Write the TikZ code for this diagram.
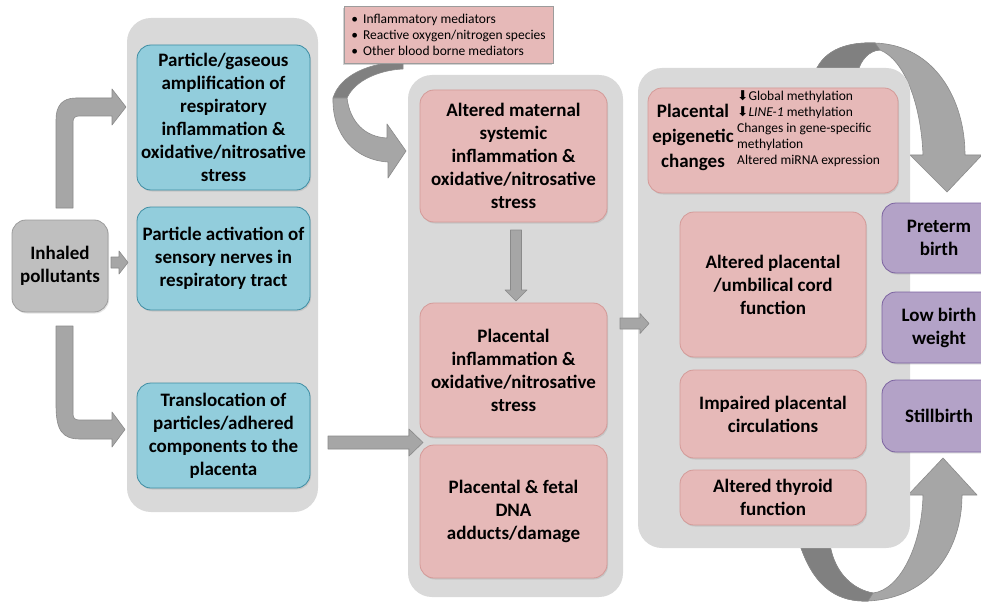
\documentclass[tikz,border=0pt]{standalone}
\usepackage{fontspec}
\setmainfont{Carlito}
\newfontfamily\arrowfont{DejaVu Sans}
\usetikzlibrary{shadows}
\definecolor{bluefill}{HTML}{92CDDC}
\definecolor{blueedge}{HTML}{3E8DA3}
\definecolor{pinkfill}{HTML}{E6B9B8}
\definecolor{pinkedge}{HTML}{D49A98}
\definecolor{purfill}{HTML}{B3A2C7}
\definecolor{puredge}{HTML}{7B62A0}
\definecolor{grayfill}{HTML}{BFBFBF}
\definecolor{grayedge}{HTML}{9C9C9C}
\definecolor{bgfill}{HTML}{D9D9D9}
\definecolor{arrfill}{HTML}{A6A6A6}
\definecolor{arredge}{HTML}{8A8A8A}
\definecolor{arrdark}{HTML}{808080}
\begin{document}
\begin{tikzpicture}[x=1pt,y=-1pt,
  bg/.style={fill=bgfill, rounded corners=24pt, inner sep=0pt},
  box/.style={rounded corners=14pt, line width=0.8pt, align=center, inner sep=2pt,
    font=\bfseries\fontsize{19}{23}\selectfont,
    drop shadow={shadow xshift=1pt, shadow yshift=-1.5pt, opacity=0.22}},
  bluebox/.style={box, fill=bluefill, draw=blueedge, minimum width=173pt},
  pinkbox/.style={box, fill=pinkfill, draw=pinkedge},
  purbox/.style={box, fill=purfill, draw=puredge, minimum width=114pt},
  graybox/.style={box, fill=grayfill, draw=grayedge},
  blockarrow/.style={fill=arrfill, draw=arredge, line width=0.6pt, line join=round},
  darkpart/.style={fill=arrdark, draw=arredge, line width=0.6pt, line join=round},
  small/.style={font=\fontsize{13.5}{16}\selectfont}
]
\useasboundingbox (0,0) rectangle (981,604);
\fill[white] (0,0) rectangle (981,604);
\clip (0,0) rectangle (981,604);

% curved arrows behind column 3
\draw[blockarrow] (815,72) .. controls (825,48) and (850,42) .. (875,43)
  .. controls (935,45) and (965,100) .. (965,155) -- (982,155) -- (947,192) -- (910,155) -- (923,155)
  .. controls (921,105) and (905,60) .. (880,50) .. controls (870,50) and (860,60) .. (858,72) -- cycle;
\draw[darkpart] (815,72) .. controls (825,48) and (850,42) .. (875,43) -- (880,50)
  .. controls (870,50) and (860,60) .. (858,72) -- cycle;

\draw[blockarrow] (800,545) .. controls (815,590) and (840,602) .. (868,601)
  .. controls (930,598) and (962,550) .. (962,495) -- (977,495) -- (943,458) -- (908,495) -- (923,495)
  .. controls (922,545) and (900,590) .. (873,593) .. controls (855,590) and (835,575) .. (830,545) -- cycle;
\draw[darkpart] (800,545) .. controls (815,590) and (840,602) .. (868,601) -- (873,593)
  .. controls (855,590) and (835,575) .. (830,545) -- cycle;

% column backgrounds
\node[bg, minimum width=191pt, minimum height=494pt] (col1) at (222.5,265) {};
\node[bg, minimum width=215pt, minimum height=522pt] (col2) at (515.5,336) {};
\node[bg, minimum width=272pt, minimum height=480pt] (col3) at (774,308) {};

% curved arrow from mediators
\draw[darkpart] (403,62) .. controls (370,62) and (340,75) .. (333,98) -- (347,98)
  .. controls (355,80) and (380,70) .. (403,69) -- cycle;
\draw[blockarrow] (333,98) .. controls (332,135) and (355,160) .. (388,162) -- (388,178) -- (406,151)
  -- (387,124) -- (387,138) .. controls (365,137) and (350,122) .. (347,98) -- cycle;

% mediators box
\node[small, fill=pinkfill, draw=grayedge, line width=0.6pt, align=left, inner sep=2pt,
  minimum width=209pt, minimum height=57pt,
  drop shadow={shadow xshift=-1pt, shadow yshift=-2pt, opacity=0.35}] (med) at (448.5,34.5)
  {\textbullet\hspace{5pt}Inflammatory mediators\\
   \textbullet\hspace{5pt}Reactive oxygen/nitrogen species\\
   \textbullet\hspace{5pt}Other blood borne mediators};

% inhaled pollutants
\node[graybox, minimum width=96pt, minimum height=92pt] (inh) at (60,266) {Inhaled\\pollutants};

% column 1
\node[bluebox, minimum height=145pt] (b1) at (223.5,117.5)
  {Particle/gaseous\\amplification of\\respiratory\\inflammation \&\\oxidative/nitrosative\\stress};
\node[bluebox, minimum height=103pt] (b2) at (223.5,258.5)
  {Particle activation of\\sensory nerves in\\respiratory tract};
\node[bluebox, minimum height=105pt] (b3) at (223.5,435.5)
  {Translocation of\\particles/adhered\\components to the\\placenta};

% column 2
\node[pinkbox, minimum width=187pt, minimum height=132pt] (p1) at (513.5,156)
  {Altered maternal\\systemic\\inflammation \&\\oxidative/nitrosative\\stress};
\node[pinkbox, minimum width=187pt, minimum height=134pt] (p2) at (513.5,370)
  {Placental\\inflammation \&\\oxidative/nitrosative\\stress};
\node[pinkbox, minimum width=187pt, minimum height=133pt] (p3) at (513.5,511.5)
  {Placental \& fetal\\DNA\\adducts/damage};

% column 3
\node[pinkbox, minimum width=250pt, minimum height=105pt] (epi) at (773,140.5) {};
\node[font=\bfseries\fontsize{19}{25}\selectfont, align=center, inner sep=0pt] (epilabel) at (693,137)
  {Placental\\epigenetic\\changes};
\node[small, align=left, anchor=west, inner sep=0pt] (epilist) at (737,129)
  {{\arrowfont ⬇}Global methylation\\
   {\arrowfont ⬇}\textit{LINE-1} methylation\\
   Changes in gene-specific\\
   methylation\\
   Altered miRNA expression};
\node[pinkbox, minimum width=186pt, minimum height=145pt] (c1) at (773,284.5)
  {Altered placental\\/umbilical cord\\function};
\node[pinkbox, minimum width=186pt, minimum height=88pt] (c2) at (773,414)
  {Impaired placental\\circulations};
\node[pinkbox, minimum width=186pt, minimum height=55pt] (c3) at (773,497.5)
  {Altered thyroid\\function};

% outcomes
\node[purbox, minimum height=70pt] (o1) at (939,238) {Preterm\\birth};
\node[purbox, minimum height=71pt] (o2) at (939,327.5) {Low birth\\weight};
\node[purbox, minimum height=72pt] (o3) at (939,416) {Stillbirth};

% straight / bent block arrows
\draw[blockarrow] (56,208) -- (56,120) .. controls (56,106) and (62,98) .. (76,98) -- (112,98)
  -- (112,89) -- (126,107) -- (112,125) -- (112,116) -- (79,116)
  .. controls (75,116) and (73,118) .. (73,122) -- (73,208) -- cycle;
\draw[blockarrow] (111,257) -- (119,257) -- (119,251) -- (128,262.5) -- (119,274) -- (119,268) -- (111,268) -- cycle;
\draw[blockarrow] (56,326) -- (56,405) .. controls (56,430) and (62,439) .. (80,439) -- (112,439)
  -- (112,447) -- (125,429.5) -- (112,412) -- (112,420) -- (79,420)
  .. controls (75,420) and (73,418) .. (73,414) -- (73,326) -- cycle;
\draw[blockarrow] (328,436) -- (409,436) -- (409,429) -- (423,442.5) -- (409,456) -- (409,449) -- (328,449) -- cycle;
\draw[blockarrow] (510.5,230) -- (521.5,230) -- (521.5,290) -- (527,290) -- (516,301) -- (505,290) -- (510.5,290) -- cycle;
\draw[blockarrow] (620,318) -- (640,318) -- (640,313.5) -- (649,323.5) -- (640,333.5) -- (640,329) -- (620,329) -- cycle;
\end{tikzpicture}
\end{document}
